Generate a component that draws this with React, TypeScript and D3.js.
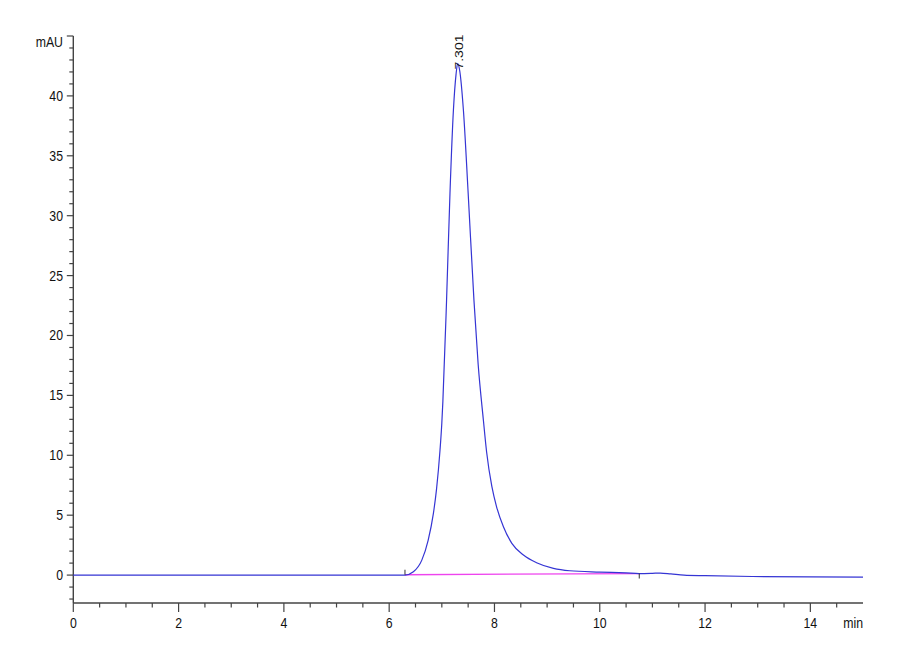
import React from 'react';
import * as d3 from 'd3';

// Chromatogram trace (minutes, mAU)
const TIMES = [
  0, 1, 2, 3, 4, 5, 6.0, 6.3, 6.46, 6.62, 6.74, 6.84, 6.9, 6.965, 7.0, 7.02,
  7.09, 7.155, 7.22, 7.27, 7.301, 7.34, 7.41, 7.5, 7.61, 7.69, 7.79, 7.85,
  7.95, 8.04, 8.17, 8.33, 8.55, 8.8, 9.12, 9.43, 10.0, 10.5, 10.75, 11.0,
  11.15, 11.35, 11.6, 12.0, 12.9, 14.0, 15.0,
];
const SIGNAL = [
  0, 0, 0, 0, 0, 0, 0, 0.0, 0.28, 1.25, 2.9, 5.15, 7.2, 10.4, 12.7, 14.5,
  22.95, 31.9, 38.8, 41.8, 42.7, 42.1, 38.8, 31.9, 22.95, 17.6, 12.9, 10.3,
  7.4, 5.7, 4.04, 2.65, 1.67, 1.03, 0.56, 0.36, 0.25, 0.18, 0.13, 0.15,
  0.17, 0.1, 0.0, -0.05, -0.12, -0.15, -0.17,
];

// integration baseline (start, end)
const BASE_T = [6.3, 10.75];
const BASE_V = [0.03, 0.13];

const PEAK_T = 7.301;
const PEAK_V = 42.7;
const PEAK_LABEL = '7.301';

const X_MAJOR = [0, 2, 4, 6, 8, 10, 12, 14];
const Y_MAJOR = [0, 5, 10, 15, 20, 25, 30, 35, 40];

const FONT = 'Liberation Sans, Arial, sans-serif';
const AXIS = '#444';

const App: React.FC = () => {
  const x = d3.scaleLinear().domain([0, 15]).range([73.3, 863]);
  const y = d3.scaleLinear().domain([-2.33, 45]).range([603, 36]);

  const pts = TIMES.map((t, i) => [t, SIGNAL[i]] as [number, number]);
  const line = d3.line<[number, number]>()
    .x(d => x(d[0]))
    .y(d => y(d[1]))
    .curve(d3.curveMonotoneX);

  const xMinor = d3.range(0, 15, 0.5);
  const yMinor = d3.range(-2, 46, 1);
  const x0 = x(0);
  const yb = y(-2.33);

  return (
    <svg width={900} height={660} style={{ position: 'absolute', left: 0, top: 0, background: '#fff' }}>
      {/* y axis */}
      <line x1={x0} x2={x0} y1={y(45)} y2={yb} stroke={AXIS} strokeWidth={1.4} />
      {yMinor.map(v => (
        <line key={'ym' + v} x1={x0 - (v % 5 === 0 ? 6.5 : 4)} x2={x0} y1={y(v)} y2={y(v)} stroke={AXIS} strokeWidth={1.2} />
      ))}
      {Y_MAJOR.map(v => (
        <text key={'yl' + v} transform={`translate(63,${y(v) + 5}) scale(0.82,1)`} textAnchor="end"
          fontFamily={FONT} fontSize={15} fill="#111">{v}</text>
      ))}
      <text transform={`translate(63,47) scale(0.82,1)`} textAnchor="end" fontFamily={FONT} fontSize={15} fill="#111">mAU</text>

      {/* x axis */}
      <line x1={x0} x2={x(15)} y1={yb} y2={yb} stroke={AXIS} strokeWidth={1.4} />
      {xMinor.map(t => (
        <line key={'xm' + t} x1={x(t)} x2={x(t)} y1={yb} y2={yb + (t % 2 === 0 ? 9 : 4.5)} stroke={AXIS} strokeWidth={1.2} />
      ))}
      {X_MAJOR.map(t => (
        <text key={'xl' + t} transform={`translate(${x(t)},628) scale(0.82,1)`} textAnchor="middle"
          fontFamily={FONT} fontSize={15} fill="#111">{t}</text>
      ))}
      <text transform={`translate(863,628) scale(0.82,1)`} textAnchor="end" fontFamily={FONT} fontSize={15} fill="#111">min</text>

      {/* integration baseline */}
      <line x1={x(BASE_T[0])} x2={x(BASE_T[1])} y1={y(BASE_V[0])} y2={y(BASE_V[1])} stroke="#ee44ee" strokeWidth={1.3} />

      {/* signal */}
      <path d={line(pts) ?? ''} fill="none" stroke="#3535d4" strokeWidth={1.2} />

      {/* peak start / end marks */}
      <line x1={x(BASE_T[0])} x2={x(BASE_T[0])} y1={y(BASE_V[0]) - 5} y2={y(BASE_V[0])} stroke="#333" strokeWidth={1} />
      <line x1={x(BASE_T[1])} x2={x(BASE_T[1])} y1={y(BASE_V[1])} y2={y(BASE_V[1]) + 5} stroke="#333" strokeWidth={1} />

      {/* peak label */}
      <text transform={`translate(${x(PEAK_T) + 5},${y(PEAK_V) + 6}) rotate(-90) scale(1,0.82)`}
        fontFamily={FONT} fontSize={14} fill="#111">{PEAK_LABEL}</text>
    </svg>
  );
};

export default App;
